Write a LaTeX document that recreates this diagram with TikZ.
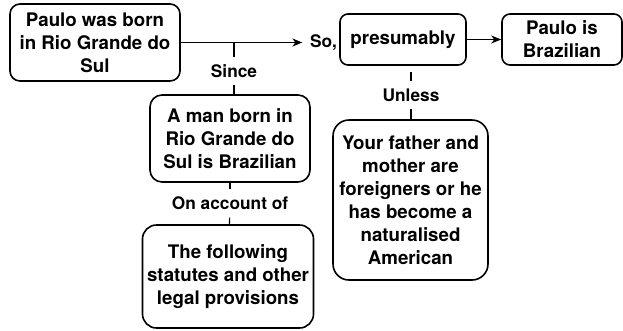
\documentclass[tikz,border=0pt]{standalone}
\usepackage{fontspec}
\setmainfont{TeX Gyre Heros}
\usetikzlibrary{arrows.meta}

\tikzset{
  argbox/.style={draw, line width=1.6pt, rounded corners=10pt, align=center, inner sep=0pt,
    font=\fontsize{18.7}{23}\selectfont\bfseries},
  argword/.style={inner sep=7.5pt, font=\fontsize{17.3}{20}\selectfont\bfseries},
  argline/.style={line width=1.1pt},
  argarrow/.style={argline, -{Stealth[length=10pt, width=8pt, inset=3pt]}},
}

\begin{document}
\begin{tikzpicture}[x=1pt, y=-1pt]

  % Bounding box of the scheme
  \useasboundingbox (0,0) rectangle (623,330) ;

  %%%%%%%%%%%%%%%%%%%%%%%%%%%%%%%%% Main line of the argument %%%%%%%%%%%%%%%%%%%%%%%%%%%%%%%%%%%%
  \draw (95,42.5) node[argbox, minimum width=170pt, minimum height=77pt] (born) {Paulo was born\\in Rio Grande do\\Sul} ;
  \draw (323.5,42.5) node[argword] (so) {So,} ;
  \draw (403,39.5) node[argbox, rounded corners=8pt, minimum width=126pt, minimum height=51pt] (presum) {presumably} ;
  \draw (562,39.5) node[argbox, rounded corners=8pt, minimum width=120pt, minimum height=51pt] (brazil) {Paulo is\\Brazilian} ;

  %%%%%%%%%%%%%%%%%%%%%%%%%%%%%%%%% Warrant, backing and rebuttal %%%%%%%%%%%%%%%%%%%%%%%%%%%%%%%%%%%%
  \draw (234,71) node[argword] (since) {Since} ;
  \draw (230,138.5) node[argbox, rounded corners=12pt, minimum width=160pt, minimum height=87pt] (law) {A man born in\\Rio Grande do\\Sul is Brazilian} ;
  \draw (230,203.5) node[argword] (account) {On account of} ;
  \draw (228,276.5) node[argbox, rounded corners=14pt, minimum width=171pt, minimum height=103pt] (statutes) {The following\\statutes and other\\legal provisions} ;

  \draw (411,95) node[argword] (unless) {Unless} ;
  \draw (410.5,200) node[argbox, rounded corners=16pt, minimum width=155pt, minimum height=160pt] (foreign) {Your father and\\mother are\\foreigners or he\\has become a\\naturalised\\American} ;

  %%%%%%%%%%%%%%%%%%%%%%%%%%%%%%%%% Connectors %%%%%%%%%%%%%%%%%%%%%%%%%%%%%%%%%%%%
  \coordinate (fork) at (since |- so.west) ;
  \draw[argarrow] (born.east) -- (so.west) ;
  \draw[argarrow] (presum.east) -- (brazil.west) ;

  \draw[argline] (fork) -- (since) ;
  \draw[argline] (since) -- (since |- law.north) ;
  \draw[argline] (law) -- (account) ;
  \draw[argline] (account) -- (statutes) ;

  \draw[argline, shorten >=6pt] (unless) -- (unless |- presum.south) ;
  \draw[argline] (unless) -- (unless |- foreign.north) ;

\end{tikzpicture}
\end{document}
